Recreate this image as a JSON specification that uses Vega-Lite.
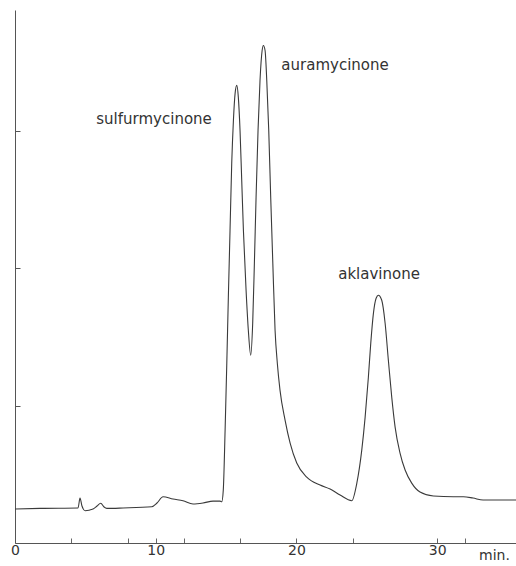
{
  "$schema": "https://vega.github.io/schema/vega-lite/v6.json",
  "width": 501,
  "height": 533,
  "autosize": {"type": "none"},
  "padding": {"left": 15, "top": 10, "right": 0, "bottom": 23},
  "background": "white",
  "config": {"view": {"stroke": null}, "axis": {"grid": false}},
  "layer": [
    {
      "data": {"values": [
        {"t": 0, "signal": 0.247}, {"t": 1.78, "signal": 0.252}, {"t": 4.48, "signal": 0.255},
        {"t": 4.62, "signal": 0.327}, {"t": 4.76, "signal": 0.269}, {"t": 4.98, "signal": 0.235},
        {"t": 5.54, "signal": 0.247}, {"t": 5.83, "signal": 0.269}, {"t": 6.09, "signal": 0.289},
        {"t": 6.33, "signal": 0.262}, {"t": 6.52, "signal": 0.252}, {"t": 7.68, "signal": 0.255},
        {"t": 9.72, "signal": 0.264}, {"t": 10.09, "signal": 0.291}, {"t": 10.52, "signal": 0.337},
        {"t": 11.23, "signal": 0.32}, {"t": 11.94, "signal": 0.308}, {"t": 12.65, "signal": 0.284},
        {"t": 13.36, "signal": 0.291}, {"t": 14.07, "signal": 0.305}, {"t": 14.57, "signal": 0.305},
        {"t": 14.69, "signal": 0.3}, {"t": 14.8, "signal": 0.385}, {"t": 14.93, "signal": 0.822},
        {"t": 15.05, "signal": 1.309}, {"t": 15.16, "signal": 1.789}, {"t": 15.28, "signal": 2.276},
        {"t": 15.4, "signal": 2.764}, {"t": 15.52, "signal": 3.076}, {"t": 15.64, "signal": 3.273},
        {"t": 15.76, "signal": 3.331}, {"t": 15.87, "signal": 3.244}, {"t": 15.99, "signal": 3.004},
        {"t": 16.11, "signal": 2.64}, {"t": 16.23, "signal": 2.276}, {"t": 16.42, "signal": 1.84},
        {"t": 16.58, "signal": 1.549}, {"t": 16.75, "signal": 1.367}, {"t": 16.89, "signal": 1.6},
        {"t": 17.01, "signal": 2.036}, {"t": 17.13, "signal": 2.516}, {"t": 17.27, "signal": 3.004},
        {"t": 17.41, "signal": 3.367}, {"t": 17.56, "signal": 3.585}, {"t": 17.65, "signal": 3.622},
        {"t": 17.77, "signal": 3.585}, {"t": 17.89, "signal": 3.367}, {"t": 18.03, "signal": 3.004},
        {"t": 18.17, "signal": 2.516}, {"t": 18.32, "signal": 2.036}, {"t": 18.48, "signal": 1.549},
        {"t": 18.64, "signal": 1.309}, {"t": 18.83, "signal": 1.113}, {"t": 19.19, "signal": 0.895},
        {"t": 19.55, "signal": 0.727}, {"t": 20.02, "signal": 0.582}, {"t": 20.73, "signal": 0.48},
        {"t": 21.68, "signal": 0.422}, {"t": 22.39, "signal": 0.393}, {"t": 23.1, "signal": 0.349},
        {"t": 23.93, "signal": 0.308}, {"t": 24.29, "signal": 0.436}, {"t": 24.64, "signal": 0.676},
        {"t": 24.88, "signal": 0.916}, {"t": 25.11, "signal": 1.207}, {"t": 25.28, "signal": 1.455},
        {"t": 25.47, "signal": 1.673}, {"t": 25.66, "signal": 1.782}, {"t": 25.82, "signal": 1.804},
        {"t": 26.06, "signal": 1.767}, {"t": 26.3, "signal": 1.6}, {"t": 26.53, "signal": 1.331},
        {"t": 26.77, "signal": 1.062}, {"t": 27.01, "signal": 0.844}, {"t": 27.36, "signal": 0.655},
        {"t": 27.72, "signal": 0.531}, {"t": 28.19, "signal": 0.436}, {"t": 28.78, "signal": 0.371},
        {"t": 29.73, "signal": 0.342}, {"t": 31.15, "signal": 0.337}, {"t": 31.86, "signal": 0.337},
        {"t": 32.55, "signal": 0.327}, {"t": 33.26, "signal": 0.313}, {"t": 35.6, "signal": 0.313}
      ]},
      "mark": {"type": "line", "interpolate": "monotone", "stroke": "#3a3a3a", "strokeWidth": 1.1},
      "encoding": {
        "x": {
          "field": "t", "type": "quantitative",
          "scale": {"domain": [0, 35.6], "nice": false, "zero": false},
          "axis": {
            "values": [0, 4, 8, 10, 12, 16, 20, 24, 30, 32],
            "labelExpr": "datum.value % 10 === 0 ? datum.label : ''",
            "domainColor": "#555", "tickColor": "#666", "tickSize": -5,
            "labelFont": "DejaVu Sans", "labelFontSize": 14, "labelColor": "#333",
            "labelPadding": 5, "labelBaseline": "top", "labelFlush": false,
            "title": "min.", "titleFont": "DejaVu Sans", "titleFontSize": 14,
            "titleFontWeight": "normal", "titleColor": "#333",
            "titleX": 479, "titleY": 5, "titleAlign": "center", "titleBaseline": "top"
          }
        },
        "y": {
          "field": "signal", "type": "quantitative",
          "scale": {"domain": [0, 3.88], "nice": false},
          "axis": {
            "values": [1, 2, 3], "labels": false, "title": null,
            "tickSize": -5, "domainColor": "#555", "tickColor": "#555"
          }
        }
      }
    },
    {
      "data": {"values": [
        {"t": 9.88, "signal": 3.09, "label": "sulfurmycinone"},
        {"t": 22.74, "signal": 3.476, "label": "auramycinone"},
        {"t": 25.87, "signal": 1.956, "label": "aklavinone"}
      ]},
      "mark": {"type": "text", "font": "DejaVu Sans", "fontSize": 15, "color": "#333", "align": "center", "baseline": "middle"},
      "encoding": {
        "x": {"field": "t", "type": "quantitative"},
        "y": {"field": "signal", "type": "quantitative"},
        "text": {"field": "label"}
      }
    }
  ]
}
